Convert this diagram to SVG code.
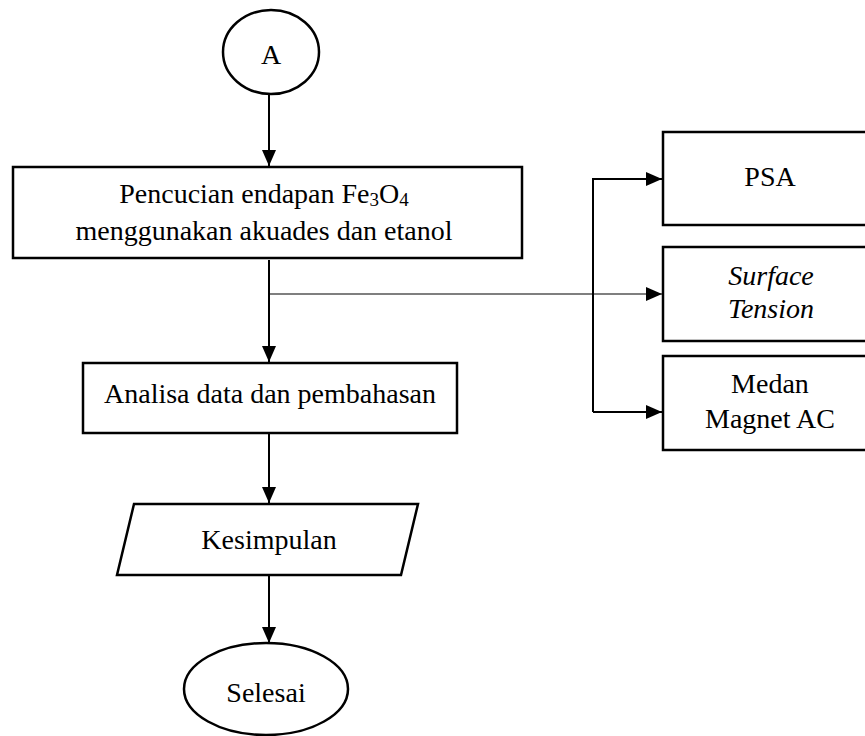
<svg xmlns="http://www.w3.org/2000/svg" width="865" height="736" viewBox="0 0 865 736">
<style>
.shape{fill:#fff;stroke:#000;stroke-width:2.5}
.t{font-family:"Liberation Serif","Times New Roman",serif;font-size:28px;fill:#000;text-anchor:middle}
.c{fill:none;stroke:#000;stroke-width:2}
.thin{fill:none;stroke:#000;stroke-width:1.2}
</style>
<defs>
<marker id="ah" markerWidth="16" markerHeight="14" refX="16" refY="7" orient="auto" markerUnits="userSpaceOnUse"><path d="M0,0 L16,7 L0,14 Z" fill="#000"/></marker>
</defs>
<rect width="865" height="736" fill="#fff"/>
<g id="connectors">
<path class="c" d="M269,95 V166" marker-end="url(#ah)"/>
<path class="c" d="M269,260 V362" marker-end="url(#ah)"/>
<path class="thin" d="M269,294 H662" marker-end="url(#ah)"/>
<path class="c" d="M593,412 V179 H662" marker-end="url(#ah)"/>
<path class="c" d="M593,412 H662" marker-end="url(#ah)"/>
<path class="c" d="M269,434 V503" marker-end="url(#ah)"/>
<path class="c" d="M269,576 V643" marker-end="url(#ah)"/>
</g>
<g id="nodeA">
<ellipse class="shape" cx="271" cy="52" rx="48" ry="42"/>
<text class="t" x="271" y="64">A</text>
</g>
<g id="pencucian">
<rect class="shape" x="13" y="167" width="509" height="91"/>
<text class="t" x="264" y="203">Pencucian endapan Fe<tspan font-size="19" dy="3">3</tspan><tspan dy="-3">O</tspan><tspan font-size="19" dy="3">4</tspan></text>
<text class="t" x="264" y="240">menggunakan akuades dan etanol</text>
</g>
<g id="psa">
<rect class="shape" x="663" y="132" width="210" height="93"/>
<text class="t" x="770" y="186">PSA</text>
</g>
<g id="surface">
<rect class="shape" x="663" y="247" width="210" height="94"/>
<text class="t" x="771" y="285" font-style="italic">Surface</text>
<text class="t" x="771" y="318" font-style="italic">Tension</text>
</g>
<g id="medan">
<rect class="shape" x="663" y="356" width="210" height="94"/>
<text class="t" x="770" y="393">Medan</text>
<text class="t" x="770" y="428">Magnet AC</text>
</g>
<g id="analisa">
<rect class="shape" x="83" y="363" width="374" height="70"/>
<text class="t" x="270" y="403">Analisa data dan pembahasan</text>
</g>
<g id="kesimpulan">
<polygon class="shape" points="134,504 418,504 401,575 117,575"/>
<text class="t" x="269" y="549">Kesimpulan</text>
</g>
<g id="selesai">
<ellipse class="shape" cx="266" cy="689" rx="82" ry="46"/>
<text class="t" x="266" y="702">Selesai</text>
</g>
</svg>
